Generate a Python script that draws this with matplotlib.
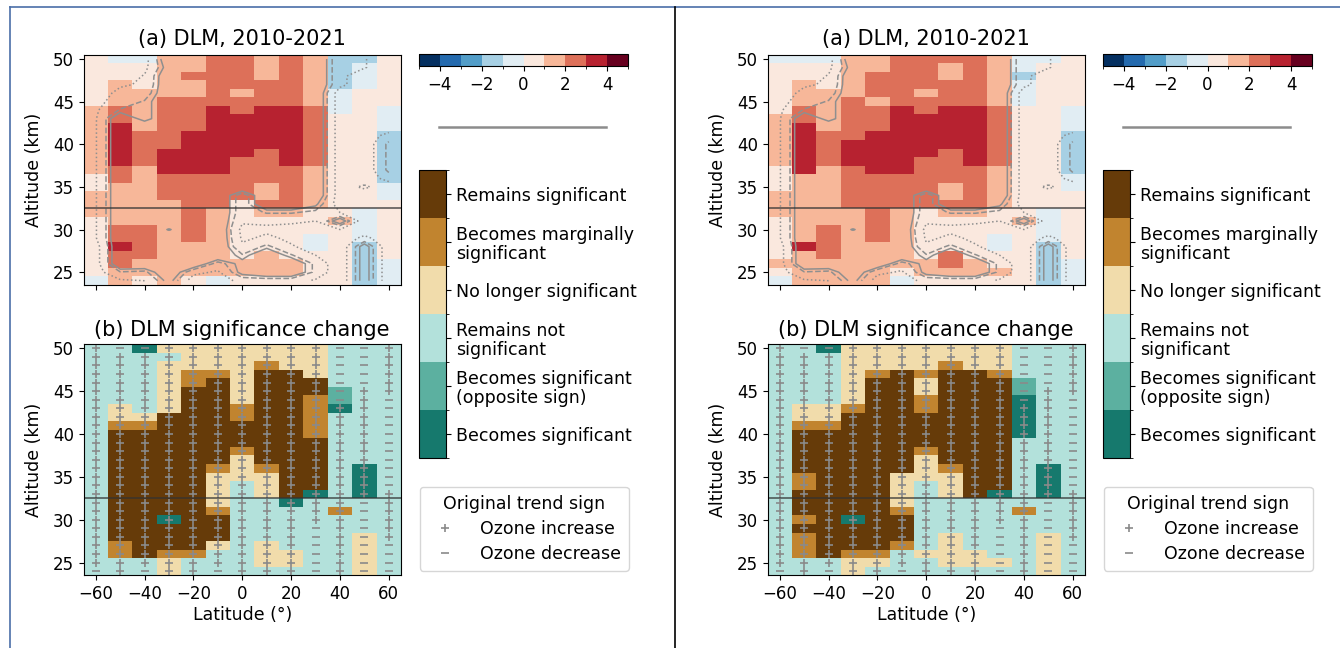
import numpy as np
import matplotlib
matplotlib.use("Agg")
import matplotlib.pyplot as plt
from matplotlib.colors import ListedColormap, BoundaryNorm
from matplotlib.cm import ScalarMappable
from matplotlib.lines import Line2D

W, H = 1340, 648

# ---------------- data ----------------
latitudes = [-60, -50, -40, -30, -20, -10, 0, 10, 20, 30, 40, 50, 60]
altitudes = list(range(50, 23, -1))          # rows, top (50 km) to bottom (24 km)

# DLM trend (%/decade) per cell, left figure
trend_left = [
    [0.5, -0.5, -0.5, 1.5, 1.5, 2.5, 2.5, 1.5, 2.5, 1.5, -1.5, -1.5, 0.5],
    [0.5, 0.5, 0.5, 1.5, 1.5, 2.5, 2.5, 1.5, 2.5, 1.5, -1.5, -0.5, 0.5],
    [0.5, 0.5, 0.5, 1.5, 2.5, 2.5, 2.5, 1.5, 2.5, 1.5, -1.5, -0.5, 0.5],
    [0.5, 1.5, 0.5, 1.5, 1.5, 2.5, 2.5, 2.5, 2.5, 1.5, -1.5, -0.5, 0.5],
    [0.5, 1.5, 1.5, 1.5, 1.5, 2.5, 1.5, 2.5, 2.5, 1.5, -0.5, 0.5, 0.5],
    [0.5, 1.5, 1.5, 2.5, 2.5, 2.5, 2.5, 2.5, 2.5, 1.5, -0.5, 0.5, 0.5],
    [1.5, 2.5, 1.5, 2.5, 2.5, 3.5, 2.5, 3.5, 3.5, 2.5, -0.5, 0.5, -0.5],
    [1.5, 2.5, 1.5, 2.5, 2.5, 3.5, 3.5, 3.5, 3.5, 2.5, 0.5, 0.5, -0.5],
    [1.5, 3.5, 1.5, 2.5, 2.5, 3.5, 3.5, 3.5, 3.5, 2.5, 0.5, 0.5, -0.5],
    [1.5, 3.5, 2.5, 2.5, 3.5, 3.5, 3.5, 3.5, 3.5, 2.5, 0.5, 0.5, -1.5],
    [1.5, 3.5, 2.5, 2.5, 3.5, 3.5, 3.5, 3.5, 3.5, 2.5, 0.5, 0.5, -1.5],
    [1.5, 3.5, 2.5, 3.5, 3.5, 3.5, 3.5, 2.5, 3.5, 2.5, 0.5, 0.5, -1.5],
    [1.5, 3.5, 2.5, 3.5, 3.5, 3.5, 2.5, 2.5, 3.5, 2.5, 0.5, 0.5, -1.5],
    [1.5, 2.5, 1.5, 3.5, 3.5, 3.5, 2.5, 2.5, 2.5, 1.5, 0.5, 0.5, -1.5],
    [0.5, 2.5, 1.5, 2.5, 2.5, 2.5, 2.5, 2.5, 2.5, 1.5, 0.5, 0.5, -1.5],
    [0.5, 1.5, 1.5, 2.5, 2.5, 2.5, 2.5, 1.5, 2.5, 1.5, 0.5, 0.5, -0.5],
    [1.5, 1.5, 1.5, 2.5, 2.5, 2.5, 2.5, 1.5, 2.5, 1.5, 0.5, 0.5, -0.5],
    [1.5, 1.5, 1.5, 1.5, 2.5, 2.5, 0.5, 2.5, 2.5, 1.5, 0.5, 0.5, 0.5],
    [1.5, 1.5, 1.5, 1.5, 2.5, 1.5, 0.5, 1.5, 1.5, 0.5, 0.5, -0.5, 0.5],
    [0.5, 1.5, 1.5, 1.5, 2.5, 1.5, 0.5, 0.5, 0.5, 0.5, 1.5, -0.5, 0.5],
    [0.5, 2.5, 2.5, 1.5, 2.5, 1.5, 0.5, 0.5, 0.5, 0.5, 0.5, -0.5, 0.5],
    [0.5, 2.5, 2.5, 1.5, 2.5, 1.5, 0.5, 0.5, 0.5, -0.5, 0.5, -0.5, 0.5],
    [0.5, 3.5, 2.5, 1.5, 1.5, 1.5, 0.5, 0.5, 0.5, -0.5, 0.5, -1.5, 0.5],
    [0.5, 2.5, 2.5, 1.5, 1.5, 1.5, 0.5, 1.5, 0.5, 0.5, 0.5, -1.5, 0.5],
    [0.5, 2.5, 1.5, 1.5, 1.5, 1.5, 1.5, 1.5, 1.5, 0.5, 0.5, -1.5, -0.5],
    [0.5, 1.5, 1.5, 1.5, 1.5, 1.5, 1.5, 1.5, 1.5, 0.5, 0.5, -1.5, -0.5],
    [-0.5, 1.5, 0.5, 1.5, 0.5, -0.5, 0.5, 0.5, 0.5, 0.5, 0.5, -1.5, -0.5],
]

# DLM trend (%/decade) per cell, right figure
trend_right = [
    [-0.5, -0.5, -0.5, 1.5, 1.5, 2.5, 2.5, 2.5, 2.5, 1.5, -0.5, -0.5, 0.5],
    [0.5, 0.5, 0.5, 1.5, 1.5, 2.5, 2.5, 1.5, 2.5, 1.5, -0.5, 0.5, 0.5],
    [0.5, 0.5, 0.5, 1.5, 2.5, 2.5, 2.5, 1.5, 2.5, 1.5, -1.5, 0.5, 0.5],
    [0.5, 1.5, 0.5, 1.5, 2.5, 2.5, 2.5, 2.5, 2.5, 1.5, -0.5, 0.5, 0.5],
    [0.5, 1.5, 1.5, 1.5, 2.5, 2.5, 1.5, 2.5, 2.5, 1.5, -0.5, 0.5, 0.5],
    [0.5, 1.5, 1.5, 2.5, 1.5, 2.5, 2.5, 2.5, 2.5, 1.5, -0.5, 0.5, 0.5],
    [0.5, 2.5, 1.5, 2.5, 2.5, 3.5, 2.5, 3.5, 3.5, 2.5, 0.5, 0.5, -0.5],
    [1.5, 2.5, 1.5, 2.5, 2.5, 3.5, 3.5, 3.5, 3.5, 2.5, 0.5, 0.5, -0.5],
    [1.5, 3.5, 1.5, 2.5, 2.5, 3.5, 3.5, 3.5, 3.5, 2.5, 0.5, 0.5, -0.5],
    [1.5, 3.5, 2.5, 2.5, 3.5, 3.5, 3.5, 3.5, 3.5, 2.5, 0.5, 0.5, -1.5],
    [1.5, 3.5, 2.5, 3.5, 3.5, 3.5, 3.5, 3.5, 3.5, 2.5, 0.5, 0.5, -1.5],
    [1.5, 3.5, 2.5, 3.5, 3.5, 3.5, 3.5, 2.5, 3.5, 2.5, 0.5, 0.5, -1.5],
    [1.5, 3.5, 2.5, 3.5, 3.5, 3.5, 2.5, 2.5, 3.5, 2.5, 0.5, 0.5, -1.5],
    [0.5, 3.5, 1.5, 2.5, 3.5, 3.5, 2.5, 2.5, 2.5, 1.5, 0.5, 0.5, -1.5],
    [0.5, 1.5, 1.5, 2.5, 2.5, 2.5, 2.5, 2.5, 2.5, 1.5, 0.5, 0.5, -0.5],
    [0.5, 1.5, 1.5, 2.5, 2.5, 2.5, 2.5, 1.5, 2.5, 1.5, 0.5, 0.5, -0.5],
    [1.5, 1.5, 1.5, 2.5, 2.5, 2.5, 2.5, 1.5, 2.5, 1.5, 0.5, 0.5, 0.5],
    [1.5, 1.5, 1.5, 2.5, 2.5, 2.5, 2.5, 2.5, 2.5, 1.5, 0.5, 0.5, 0.5],
    [1.5, 1.5, 1.5, 1.5, 2.5, 1.5, 0.5, 1.5, 1.5, 0.5, 0.5, -0.5, 0.5],
    [0.5, 1.5, 1.5, 1.5, 2.5, 1.5, 0.5, 0.5, 0.5, 0.5, 1.5, -0.5, 0.5],
    [0.5, 1.5, 2.5, 1.5, 2.5, 1.5, 0.5, 0.5, 0.5, 0.5, 0.5, -0.5, 0.5],
    [0.5, 1.5, 2.5, 1.5, 2.5, 1.5, 0.5, 0.5, 0.5, -0.5, 0.5, -0.5, 0.5],
    [0.5, 3.5, 2.5, 1.5, 1.5, 1.5, 0.5, 0.5, 0.5, -0.5, 0.5, -1.5, 0.5],
    [0.5, 1.5, 2.5, 1.5, 1.5, 1.5, 0.5, 2.5, 0.5, 0.5, 0.5, -1.5, 0.5],
    [1.5, 1.5, 1.5, 1.5, 1.5, 1.5, 1.5, 2.5, 1.5, 0.5, 0.5, -1.5, -0.5],
    [0.5, 1.5, 1.5, 1.5, 1.5, 0.5, 1.5, 1.5, 1.5, 1.5, 0.5, -1.5, -0.5],
    [-0.5, 1.5, 1.5, 1.5, 1.5, -0.5, 0.5, 0.5, 0.5, 0.5, 0.5, -1.5, -0.5],
]

# Significance change category per cell
# T=Becomes significant, t=Becomes significant (opposite sign), N=Remains not significant,
# C=No longer significant, O=Becomes marginally significant, D=Remains significant
change_left = [
    "NNTCCCCCCCNNN", "NNNNCCCCCCNNN", "NNNCCCCOCCNNN", "NNNCOOCDDCNNN",
    "NNNCODCDDDNNN", "NNNCDDCDDDtNN", "NNNCDDCDDOtNN", "NCNCDDODDOTNN",
    "NCCDDDODDONNN", "NOODDDDDDONNN", "NDDDDDDDDONNN", "NDDDDDDDDDNNN",
    "NDDDDDODDDNNN", "NDDDDDCDDDNNN", "NDDDDOCODDNTN", "NDDDDCCCDDNTN",
    "NDDDDCNCDDNTN", "NDDDDCNCDTNTN", "NDDDDCNNTNNNN", "NDDDDONNNNONN",
    "NDDTDDNNNNNNN", "NDDDDDNNNNNNN", "NDDDDDNNNNNCN", "NODDDCNCNNNCN",
    "NODOONNCCNNCN", "NNNCNNNCCNNCN", "NNNCNNNNNNNCN",
]
change_right = [
    "NNTCCCCCCCNNN", "NNNCCCCCCCNNN", "NNNCCCCOCCNNN", "NNNCODODDONNN",
    "NNNCDDCDDDtNN", "NNNCDDCDDDtNN", "NNNCDDODDDTNN", "NCCODDODDDTNN",
    "NCCDDDDDDDTNN", "NOODDDDDDDTNN", "NDDDDDDDDDTNN", "NDDDDDDDDDNNN",
    "NDDDDDODDDNNN", "NDDDDDCDDDNNN", "NDDDDDCODDNTN", "NODDDCCCDDNTN",
    "NODDDCNCDDNTN", "NDDDDCNCDTNTN", "NDDDDCNNNNNNN", "NDDDDONNNNONN",
    "NODTDDNNNNNNN", "NDDDDDNNNNNNN", "NODDDDNCNNNCN", "NODDDONCNNNCN",
    "NODOONCCCNNCN", "NNNCCNNCCCNCN", "NNNCNNNNNNNCN",
]

# Sign of the original trend per cell
original_sign = [
    "+--+++++++--+", "++++++++++--+", "++++++++++--+", "++++++++++--+",
    "++++++++++--+", "++++++++++-++", "++++++++++-+-", "++++++++++++-",
    "++++++++++++-", "++++++++++++-", "++++++++++++-", "++++++++++++-",
    "++++++++++++-", "++++++++++++-", "++++++++++++-", "++++++++++++-",
    "++++++++++++-", "+++++++++++++", "+++++++++++-+", "+++++++++++-+",
    "+++++++++++-+", "+++++++++-+-+", "+++++++++-+-+", "+++++++++-+--",
    "+++++++++-+--", "+++++++++-+--", "-+-++-+++-+--",
]

# |trend| / uncertainty of the original trend (for significance contours)
original_zscore = [
    [0.5, 0.5, 0.7, 2.6, 2.6, 2.6, 2.6, 2.6, 2.6, 2.6, 1.2, 1.05, 0.5],
    [0.5, 0.5, 0.8, 2.3, 2.6, 2.6, 2.6, 2.6, 2.6, 2.6, 1.2, 1.05, 0.5],
    [0.5, 0.6, 1.05, 2.6, 2.6, 2.6, 2.6, 2.6, 2.6, 2.6, 1.2, 0.5, 0.5],
    [0.5, 0.9, 1.1, 2.6, 2.6, 2.6, 2.6, 2.6, 2.6, 2.6, 1.2, 0.5, 0.5],
    [0.6, 1.2, 1.3, 2.6, 2.6, 2.6, 2.6, 2.6, 2.6, 2.6, 0.6, 0.5, 0.5],
    [0.8, 1.3, 1.7, 2.6, 2.6, 2.6, 2.6, 2.6, 2.6, 2.6, 0.6, 0.5, 0.5],
    [0.9, 1.7, 1.7, 2.6, 2.6, 2.6, 2.6, 2.6, 2.6, 2.6, 0.6, 0.5, 0.5],
    [0.95, 2.6, 1.7, 2.6, 2.6, 2.6, 2.6, 2.6, 2.6, 2.6, 0.6, 0.5, 0.5],
    [0.95, 2.6, 2.6, 2.6, 2.6, 2.6, 2.6, 2.6, 2.6, 2.6, 0.6, 0.5, 0.5],
    [0.95, 2.6, 2.6, 2.6, 2.6, 2.6, 2.6, 2.6, 2.6, 2.6, 0.6, 0.5, 1.3],
    [0.95, 2.6, 2.6, 2.6, 2.6, 2.6, 2.6, 2.6, 2.6, 2.6, 0.6, 0.5, 1.8],
    [0.95, 2.6, 2.6, 2.6, 2.6, 2.6, 2.6, 2.6, 2.6, 2.6, 0.6, 0.5, 1.8],
    [0.95, 2.6, 2.6, 2.6, 2.6, 2.6, 2.6, 2.6, 2.6, 2.6, 0.6, 0.5, 1.8],
    [0.95, 2.6, 2.6, 2.6, 2.6, 2.6, 2.6, 2.6, 2.6, 2.6, 0.6, 0.5, 1.8],
    [0.95, 2.6, 2.6, 2.6, 2.6, 2.6, 2.6, 2.6, 2.6, 2.6, 0.6, 0.5, 1.3],
    [0.95, 2.6, 2.6, 2.6, 2.6, 2.6, 2.6, 2.6, 2.6, 2.6, 0.6, 1.15, 0.5],
    [0.95, 2.6, 2.6, 2.6, 2.6, 2.6, 1.3, 2.6, 2.6, 2.6, 0.6, 0.5, 0.5],
    [0.95, 2.6, 2.6, 2.6, 2.6, 2.6, 1.3, 2.6, 2.6, 2.1, 0.6, 0.5, 0.5],
    [0.95, 2.6, 2.6, 2.6, 2.6, 2.6, 1.3, 1.7, 1.7, 1.5, 1.0, 0.5, 0.5],
    [0.95, 2.6, 2.6, 2.6, 2.6, 2.6, 1.1, 1.1, 1.1, 1.0, 2.4, 0.5, 0.5],
    [0.95, 2.6, 2.6, 1.9, 2.6, 2.6, 0.8, 0.9, 0.8, 0.6, 1.0, 0.5, 0.5],
    [0.95, 2.6, 2.6, 2.6, 2.6, 2.6, 0.9, 1.1, 0.9, 0.7, 0.5, 1.2, 0.5],
    [0.7, 2.6, 2.6, 2.6, 2.6, 2.6, 1.1, 1.8, 1.05, 0.8, 0.5, 2.3, 0.5],
    [0.7, 2.6, 2.6, 2.6, 2.6, 2.6, 1.7, 2.6, 1.7, 1.0, 0.5, 2.3, 0.5],
    [0.7, 2.6, 2.6, 2.6, 2.6, 1.4, 2.2, 2.6, 2.6, 1.5, 0.5, 2.3, 0.5],
    [0.7, 1.6, 1.5, 2.6, 1.2, 0.9, 2.2, 2.6, 2.6, 1.5, 0.5, 2.3, 0.5],
    [0.5, 0.9, 1.0, 2.2, 0.6, 0.5, 1.3, 1.3, 1.3, 0.9, 0.5, 2.3, 0.5],
]

category_codes = "TtNCOD"
category_labels = ["Becomes significant", "Becomes significant\n(opposite sign)",
                   "Remains not\nsignificant", "No longer significant",
                   "Becomes marginally\nsignificant", "Remains significant"]
category_colors = ["#16796d", "#5cb0a0", "#b3e1db", "#f1dcab", "#c1842f", "#663b09"]
trend_levels = list(range(-5, 6))
trend_ticks = [-4, -2, 0, 2, 4]
lat_ticks = [-60, -40, -20, 0, 20, 40, 60]
alt_ticks = [25, 30, 35, 40, 45, 50]
sig_levels = [1.0, 1.645, 1.96]
sig_styles = [":", "--", "-"]
split_altitude = 32.5
panel_titles = ["(a) DLM, 2010-2021", "(b) DLM significance change"]

# ---------------- drawing ----------------
plt.rcParams["font.family"] = "DejaVu Sans"
fig = plt.figure(figsize=(W / 100, H / 100), dpi=100)


def px_axes(x0, y0, x1, y1):
    return fig.add_axes([x0 / W, 1 - y1 / H, (x1 - x0) / W, (y1 - y0) / H])


def edges(c):
    c = np.asarray(c, float)
    m = (c[:-1] + c[1:]) / 2
    return np.concatenate([[2 * c[0] - m[0]], m, [2 * c[-1] - m[-1]]])


lat_c = np.array(latitudes, float)
alt_c = np.array(altitudes, float)
lat_e, alt_e = edges(lat_c), edges(alt_c)
LAT, ALT = np.meshgrid(lat_c, alt_c)

trend_cmap = plt.get_cmap("RdBu_r")
trend_norm = BoundaryNorm(trend_levels, trend_cmap.N)
cat_cmap = ListedColormap(category_colors)
cat_norm = BoundaryNorm(np.arange(-0.5, len(category_codes) + 0.5), len(category_codes))
sign_arr = np.array([list(r) for r in original_sign])
zscore = np.array(original_zscore)
marker_color = "#8a8a8a"
TICK_FS = 12
LABEL_FS = 12.5
TITLE_FS = 15


def style_axes(ax, show_xlabels):
    ax.set_xlim(lat_e[0], lat_e[-1])
    ax.set_ylim(alt_e[-1], alt_e[0])
    ax.set_xticks(lat_ticks)
    ax.set_yticks(alt_ticks)
    ax.tick_params(labelsize=TICK_FS, length=3.5)
    if not show_xlabels:
        ax.set_xticklabels([])
    ax.set_ylabel("Altitude (km)", fontsize=LABEL_FS, labelpad=7)
    ax.axhline(split_altitude, color="#333333", lw=1.1, alpha=0.85)


def draw_figure(dx, trend, change):
    # (a) trend map
    ax_a = px_axes(83.5 + dx, 54.7, 401 + dx, 285)
    ax_a.pcolormesh(lat_e, alt_e, np.array(trend), cmap=trend_cmap, norm=trend_norm)
    ax_a.contour(LAT, ALT, zscore, levels=sig_levels, colors="#8f8f8f",
                 linestyles=sig_styles, linewidths=1.1)
    style_axes(ax_a, False)
    ax_a.set_title(panel_titles[0], fontsize=TITLE_FS, pad=7)

    # (b) significance change map
    cats = np.array([[category_codes.index(ch) for ch in row] for row in change])
    ax_b = px_axes(83.5 + dx, 344, 401 + dx, 575.4)
    ax_b.pcolormesh(lat_e, alt_e, cats, cmap=cat_cmap, norm=cat_norm)
    pos = sign_arr == "+"
    ax_b.plot(LAT[pos], ALT[pos], ls="none", marker="+", ms=6, mew=1.2, color=marker_color)
    ax_b.plot(LAT[~pos], ALT[~pos], ls="none", marker="_", ms=6, mew=1.2, color=marker_color)
    style_axes(ax_b, True)
    ax_b.set_xlabel("Latitude (°)", fontsize=LABEL_FS, labelpad=2)
    ax_b.set_title(panel_titles[1], fontsize=TITLE_FS, pad=6)

    # trend colourbar
    cax1 = px_axes(419 + dx, 54, 628 + dx, 66)
    cb1 = fig.colorbar(ScalarMappable(norm=trend_norm, cmap=trend_cmap), cax=cax1,
                       orientation="horizontal", ticks=trend_ticks)
    cb1.ax.tick_params(labelsize=TICK_FS, length=3.5)
    fig.add_artist(Line2D([(439 + dx) / W, (606 + dx) / W], [1 - 127 / H, 1 - 127 / H],
                          color="#8c8c8c", lw=1.8, transform=fig.transFigure))

    # category colourbar
    cax2 = px_axes(419 + dx, 170, 446 + dx, 458)
    cb2 = fig.colorbar(ScalarMappable(norm=cat_norm, cmap=cat_cmap), cax=cax2,
                       ticks=list(range(len(category_codes))))
    cb2.ax.set_yticklabels(category_labels, fontsize=LABEL_FS, linespacing=1.1)
    cb2.ax.tick_params(length=3.5, pad=4)

    # sign legend
    handles = [Line2D([], [], ls="none", marker="+", ms=6, mew=1.2, color=marker_color),
               Line2D([], [], ls="none", marker="_", ms=6, mew=1.2, color=marker_color)]
    fig.legend(handles, ["Ozone increase", "Ozone decrease"], title="Original trend sign",
               loc="upper left", bbox_to_anchor=((420 + dx) / W, 1 - 487 / H),
               borderaxespad=0, fontsize=12.5, title_fontsize=12.5,
               handletextpad=1.0, borderpad=0.45, labelspacing=0.4,
               edgecolor="#cccccc")


draw_figure(0, trend_left, change_left)
draw_figure(684, trend_right, change_right)

# frame of the screenshot
frame_color = "#4a6ea8"
fig.add_artist(Line2D([9.5 / W, 1], [1 - 7 / H, 1 - 7 / H], color=frame_color, lw=1.2,
                      transform=fig.transFigure))
fig.add_artist(Line2D([9.5 / W, 9.5 / W], [0, 1 - 7 / H], color=frame_color, lw=1.2,
                      transform=fig.transFigure))
fig.add_artist(Line2D([675 / W, 675 / W], [0, 1 - 7 / H], color="black", lw=1.2,
                      transform=fig.transFigure))

fig.savefig("out.png", dpi=100)
